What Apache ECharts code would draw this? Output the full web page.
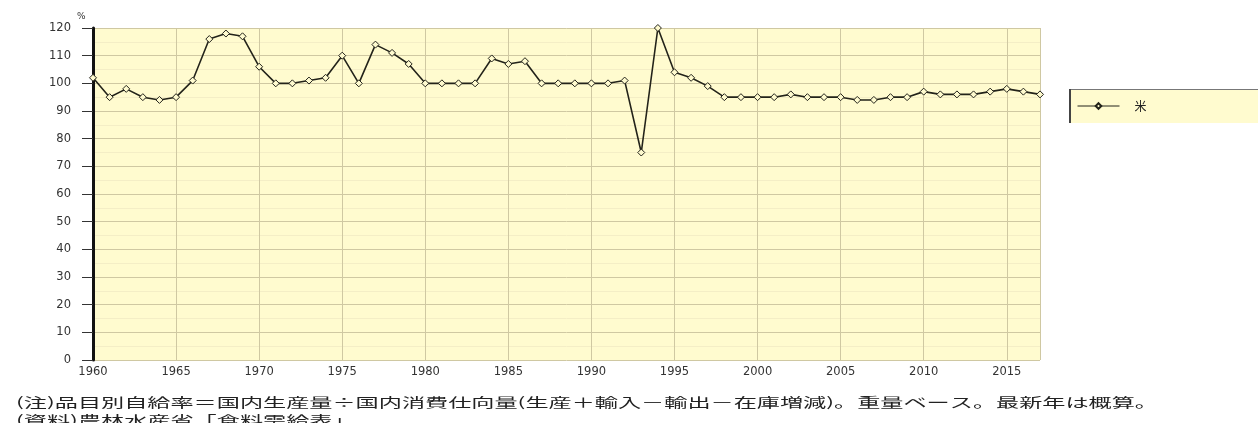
<!DOCTYPE html>
<html>
<head>
<meta charset="utf-8">
<script src="https://cdn.jsdelivr.net/npm/echarts@6/dist/echarts.min.js"></script>
<style>
  html, body { margin: 0; padding: 0; background: #ffffff; }
  #chart { width: 1258px; height: 423px; }
</style>
</head>
<body>
<div id="chart"></div>
<script>
// 米の自給率（重量ベース, %）
const years = [
  1960, 1961, 1962, 1963, 1964, 1965, 1966, 1967, 1968, 1969,
  1970, 1971, 1972, 1973, 1974, 1975, 1976, 1977, 1978, 1979,
  1980, 1981, 1982, 1983, 1984, 1985, 1986, 1987, 1988, 1989,
  1990, 1991, 1992, 1993, 1994, 1995, 1996, 1997, 1998, 1999,
  2000, 2001, 2002, 2003, 2004, 2005, 2006, 2007, 2008, 2009,
  2010, 2011, 2012, 2013, 2014, 2015, 2016, 2017
];
const riceRate = [
  102, 95, 98, 95, 94, 95, 101, 116, 118, 117,
  106, 100, 100, 101, 102, 110, 100, 114, 111, 107,
  100, 100, 100, 100, 109, 107, 108, 100, 100, 100,
  100, 100, 101, 75, 120, 104, 102, 99, 95, 95,
  95, 95, 96, 95, 95, 95, 94, 94, 95, 95,
  97, 96, 96, 96, 97, 98, 97, 96
];
const seriesName = '米';
const unitLabel = '%';
const noteLines = [
  '(注)品目別自給率＝国内生産量÷国内消費仕向量(生産＋輸入－輸出－在庫増減)。重量ベース。最新年は概算。',
  '(資料)農林水産省「食料需給表」'
];

const chart = echarts.init(document.getElementById('chart'), null, { renderer: 'canvas' });

const PLOT_BG = '#fffbcf';
const GRID_COLOR = '#cfc8a2';
const LINE_COLOR = '#23231a';
const labelFont = 'DejaVu Sans, sans-serif';
const cjkFont = '"Noto Sans CJK JP", sans-serif';

const option = {
  animation: false,
  backgroundColor: '#ffffff',
  grid: {
    left: 93, right: 218, top: 28, bottom: 63,
    show: true, backgroundColor: PLOT_BG, borderWidth: 0
  },
  legend: {
    data: [seriesName],
    left: 1069, top: 89,
    orient: 'vertical',
    padding: [11, 220, 11, 8],
    backgroundColor: PLOT_BG,
    itemWidth: 42, itemHeight: 7,
    lineStyle: { width: 1 },
    textStyle: { fontFamily: cjkFont, fontSize: 12, color: '#222', padding: [0, 0, 0, 10] }
  },
  xAxis: {
    type: 'value',
    min: 1960, max: 2017, interval: 5,
    axisLine: { show: false },
    axisTick: { show: false },
    axisLabel: {
      fontFamily: labelFont, fontSize: 11.5, color: '#333', margin: 6,
      showMaxLabel: false,
      formatter: v => String(v)
    },
    splitLine: { show: true, lineStyle: { color: GRID_COLOR, width: 1 } }
  },
  yAxis: {
    type: 'value',
    min: 0, max: 120, interval: 10,
    axisLine: { show: true, onZero: false, lineStyle: { color: '#111', width: 3 } },
    axisTick: { show: true, length: 11, lineStyle: { color: '#333', width: 1 } },
    axisLabel: { fontFamily: labelFont, fontSize: 11.5, color: '#333', margin: 22 },
    splitLine: { show: true, lineStyle: { color: GRID_COLOR, width: 1 } },
    minorTick: { show: false, splitNumber: 2 },
    minorSplitLine: { show: true, lineStyle: { color: '#f4eec6', width: 1 } }
  },
  series: [{
    name: seriesName,
    type: 'line',
    data: years.map((y, i) => [y, riceRate[i]]),
    symbol: 'diamond',
    symbolSize: 7,
    showAllSymbol: true,
    lineStyle: { color: LINE_COLOR, width: 1.6 },
    itemStyle: { color: PLOT_BG, borderColor: LINE_COLOR, borderWidth: 1 }
  }],
  graphic: [
    {
      type: 'text', left: 77, top: 12,
      style: { text: unitLabel, font: '9px ' + labelFont, fill: '#333' }
    },
    // 凡例枠の上辺と左辺
    {
      type: 'line', z: 100,
      shape: { x1: 1069, y1: 89.5, x2: 1258, y2: 89.5 },
      style: { stroke: '#777', lineWidth: 1 }
    },
    {
      type: 'line', z: 100,
      shape: { x1: 1070, y1: 89, x2: 1070, y2: 123 },
      style: { stroke: '#444', lineWidth: 2 }
    },
    {
      type: 'text', x: 16, y: 396, scaleX: 1.78,
      style: { text: noteLines[0], font: '13px ' + cjkFont, fill: '#222' }
    },
    {
      type: 'text', x: 16, y: 414, scaleX: 1.78,
      style: { text: noteLines[1], font: '13px ' + cjkFont, fill: '#222' }
    }
  ]
};

chart.setOption(option);
</script>
</body>
</html>
